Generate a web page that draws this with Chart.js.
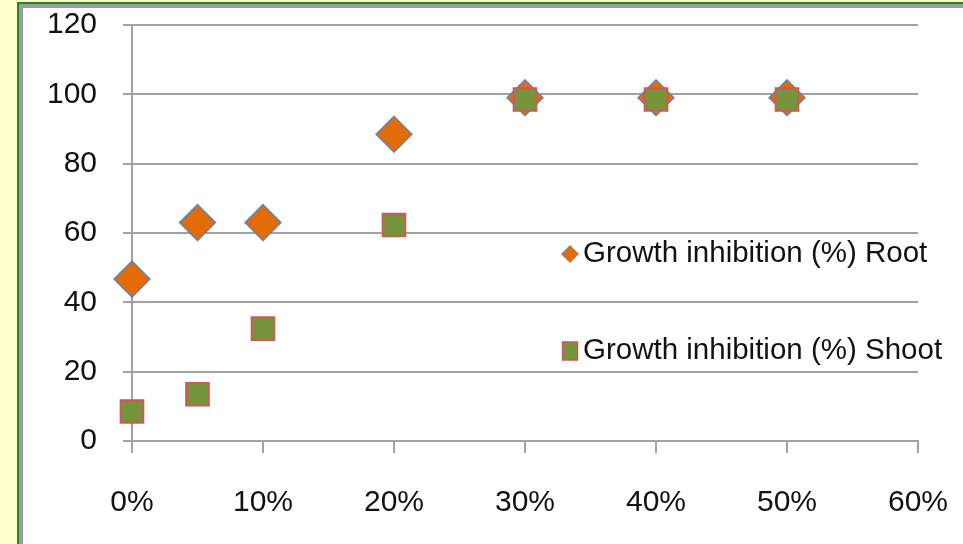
<!DOCTYPE html>
<html>
<head>
<meta charset="utf-8">
<script src="https://cdn.jsdelivr.net/npm/chart.js@4/dist/chart.umd.min.js"></script>
<style>
  html, body { margin: 0; padding: 0; }
  body { width: 963px; height: 544px; background: #ffffcc; position: relative; overflow: hidden; }
  .frame { position: absolute; left: 17px; top: 2px; width: 1000px; height: 600px;
           border-left: 2px solid #1f8a1f; border-top: 2px solid #1f8a1f; }
  .inner { position: absolute; left: 0; top: 0; right: 0; bottom: 0;
           border-left: 4px solid #9c9c9c; border-top: 4px solid #9c9c9c; background: #ffffff; }
  #chart { position: absolute; left: 0; top: 0; }
</style>
</head>
<body>
<div class="frame"><div class="inner"></div></div>
<canvas id="chart" width="963" height="544"></canvas>
<script>
// Concentration of the extract (%) and measured growth inhibition (%)
const concentrations = [0, 5, 10, 20, 30, 40, 50];
const rootInhibition = [46.7, 63, 63, 88.5, 99, 99, 99];
const shootInhibition = [8.5, 13.5, 32.4, 62.3, 98.5, 98.5, 98.5];
const seriesNames = ['Growth inhibition (%) Root', 'Growth inhibition (%) Shoot'];
const xAxisTicks = [0, 10, 20, 30, 40, 50, 60];
const yAxisTicks = [0, 20, 40, 60, 80, 100, 120];

const FONT = '"Liberation Sans", Arial, sans-serif';
const GRID = '#a2a2a2';

const toPoints = (vals) => concentrations.map((c, i) => ({ x: c, y: vals[i] }));

const rootStyle = { fill: '#e36c09', stroke: 'rgba(79,129,189,0.85)', width: 1.5 };
const shootStyle = { fill: '#77933c', stroke: '#cd5a57', width: 2 };

// Legend drawn inside the plot area, to the right
const insideLegend = {
  id: 'insideLegend',
  afterDatasetsDraw(chart) {
    const { ctx, chartArea } = chart;
    const textX = chartArea.right - 335;
    const rows = [
      { name: seriesNames[0], y: chartArea.top + 229, style: rootStyle, shape: 'diamond' },
      { name: seriesNames[1], y: chartArea.top + 326, style: shootStyle, shape: 'square' }
    ];
    ctx.save();
    rows.forEach(r => {
      const cx = textX - 13;
      ctx.beginPath();
      if (r.shape === 'diamond') {
        const h = 8.5;
        ctx.moveTo(cx - h, r.y); ctx.lineTo(cx, r.y - h);
        ctx.lineTo(cx + h, r.y); ctx.lineTo(cx, r.y + h);
        ctx.closePath();
      } else {
        ctx.rect(cx - 7.5, r.y - 9, 15, 18);
      }
      ctx.fillStyle = r.style.fill;
      ctx.fill();
      ctx.lineWidth = r.shape === 'diamond' ? 1 : 1.5;
      ctx.strokeStyle = r.style.stroke;
      ctx.stroke();
      ctx.fillStyle = '#111111';
      ctx.font = '29.5px ' + FONT;
      ctx.textBaseline = 'middle';
      ctx.textAlign = 'left';
      ctx.fillText(r.name, textX, r.y);
    });
    ctx.restore();
  }
};

new Chart(document.getElementById('chart'), {
  type: 'scatter',
  data: {
    datasets: [
      {
        label: seriesNames[0],
        data: toPoints(rootInhibition),
        pointStyle: 'rectRot',
        pointRadius: 18,
        pointHoverRadius: 18,
        backgroundColor: rootStyle.fill,
        borderColor: rootStyle.stroke,
        borderWidth: rootStyle.width,
        order: 2,
        clip: false
      },
      {
        label: seriesNames[1],
        data: toPoints(shootInhibition),
        pointStyle: 'rect',
        pointRadius: 16,
        pointHoverRadius: 16,
        backgroundColor: shootStyle.fill,
        borderColor: shootStyle.stroke,
        borderWidth: shootStyle.width,
        order: 1,
        clip: false
      }
    ]
  },
  options: {
    responsive: false,
    animation: false,
    layout: { padding: { left: 0, top: 25, right: 45, bottom: 0 } },
    plugins: {
      legend: { display: false },
      tooltip: { enabled: false }
    },
    scales: {
      x: {
        type: 'linear',
        min: xAxisTicks[0],
        max: xAxisTicks[xAxisTicks.length - 1],
        afterBuildTicks: (s) => { s.ticks = xAxisTicks.map(v => ({ value: v })); },
        afterFit: (s) => { s.height = 103; s.paddingLeft = 0; s.paddingRight = 0; },
        grid: { drawOnChartArea: false, drawTicks: true, tickLength: 12, color: GRID, lineWidth: 2 },
        border: { display: true, color: GRID, width: 2 },
        ticks: {
          padding: 32,
          color: '#111111',
          font: { family: FONT, size: 30 },
          callback: (v) => v + '%'
        }
      },
      y: {
        min: yAxisTicks[0],
        max: yAxisTicks[yAxisTicks.length - 1],
        afterBuildTicks: (s) => { s.ticks = yAxisTicks.map(v => ({ value: v })); },
        afterFit: (s) => { s.width = 132; s.paddingTop = 0; s.paddingBottom = 0; },
        grid: { drawTicks: true, tickLength: 9, color: GRID, lineWidth: 2 },
        border: { display: true, color: GRID, width: 2 },
        ticks: {
          padding: 26,
          color: '#111111',
          font: { family: FONT, size: 30 }
        }
      }
    }
  },
  plugins: [insideLegend]
});
</script>
</body>
</html>
